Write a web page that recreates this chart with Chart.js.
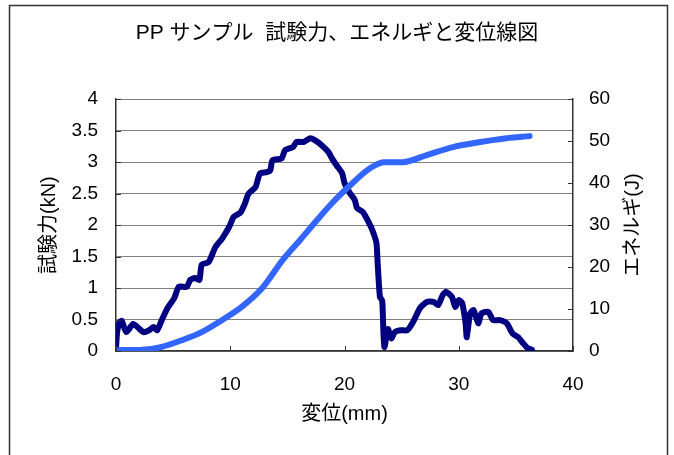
<!DOCTYPE html>
<html>
<head>
<meta charset="utf-8">
<script src="https://cdn.jsdelivr.net/npm/chart.js@4"></script>
<style>
html,body{margin:0;padding:0;background:#fff;}
#wrap{position:relative;width:674px;height:455px;}
</style>
</head>
<body>
<div id="wrap"><canvas id="c" width="674" height="455"></canvas></div>
<script>
const FONT = '"Liberation Sans", Arial, "Noto Sans CJK JP", sans-serif';

const titleText = 'PP サンプル  試験力、エネルギと変位線図';
const xTitle = '変位(mm)';
const yTitle = '試験力(kN)';
const y1Title = 'エネルギ(J)';

const forceX = [0, 0.1, 0.3, 0.5, 0.9, 1.5, 2.0, 2.4, 2.9, 3.3, 3.6, 4.0, 4.5, 5.1, 5.5, 6.2, 6.5, 6.9, 7.3, 7.5, 8.1, 8.7, 9.3, 9.9, 10.3, 10.9, 11.3, 11.6, 12.2, 12.6, 13.2, 13.5, 13.7, 14.5, 14.8, 15.5, 15.8, 16.4, 17.0, 17.4, 18.0, 18.6, 18.9, 19.3, 19.8, 20.0, 20.5, 20.9, 21.1, 21.6, 22.1, 22.5, 22.8, 22.9, 23.1, 23.3, 23.4, 23.5, 23.8, 24.1, 24.4, 24.9, 25.5, 26.0, 26.6, 27.2, 27.8, 28.2, 28.6, 28.9, 29.4, 29.7, 30.0, 30.3, 30.6, 30.7, 31.0, 31.3, 31.7, 32.0, 32.6, 33.0, 33.6, 34.2, 34.7, 35.2, 35.6, 36.0, 36.4];
const forceY = [0.05, 0.3, 0.45, 0.48, 0.3, 0.43, 0.36, 0.3, 0.33, 0.38, 0.33, 0.49, 0.68, 0.84, 1.02, 1.02, 1.13, 1.16, 1.13, 1.37, 1.41, 1.65, 1.79, 1.97, 2.13, 2.2, 2.35, 2.5, 2.6, 2.82, 2.84, 2.87, 3.03, 3.06, 3.19, 3.24, 3.32, 3.32, 3.38, 3.35, 3.27, 3.16, 3.06, 2.95, 2.82, 2.67, 2.5, 2.4, 2.27, 2.21, 2.05, 1.89, 1.71, 1.4, 0.86, 0.8, 0.33, 0.06, 0.35, 0.2, 0.3, 0.33, 0.33, 0.46, 0.68, 0.78, 0.78, 0.73, 0.89, 0.94, 0.86, 0.7, 0.81, 0.76, 0.44, 0.22, 0.6, 0.65, 0.44, 0.6, 0.62, 0.49, 0.49, 0.44, 0.28, 0.22, 0.13, 0.05, 0.02];

const energyX = [0, 2.3, 4.0, 5.8, 7.5, 9.3, 11.0, 12.8, 14.6, 16.1, 17.6, 19.0, 20.5, 22.0, 22.8, 23.4, 25.1, 27.2, 29.5, 31.9, 34.2, 36.2];
const energyY = [0.2, 0.3, 1.0, 2.6, 4.5, 7.4, 10.5, 15.0, 21.7, 26.4, 31.2, 35.5, 39.5, 43.1, 44.4, 45.0, 45.0, 46.7, 48.6, 49.8, 50.7, 51.2];

const xRange = [0, 40, 10];
const yRange = [0, 4, 0.5];
const y1Range = [0, 60, 10];

const toPts = (xs, ys) => xs.map((x, i) => ({x: x, y: ys[i]}));
const fmt = v => String(Math.round(v * 100) / 100);

const decor = {
  id: 'decor',
  afterDraw(chart) {
    const ctx = chart.ctx;
    const s = chart.scales;
    ctx.save();
    ctx.strokeStyle = '#333';
    ctx.lineWidth = 1.5;
    ctx.strokeRect(9.5, 5.5, 658, 470);
    ctx.lineWidth = 1;
    ctx.beginPath();
    s.y.ticks.forEach(t => {
      const p = Math.round(s.y.getPixelForValue(t.value)) + 0.5;
      ctx.moveTo(s.y.right, p); ctx.lineTo(s.y.right + 5, p);
    });
    s.y1.ticks.forEach(t => {
      const p = Math.round(s.y1.getPixelForValue(t.value)) + 0.5;
      ctx.moveTo(s.y1.left - 5, p); ctx.lineTo(s.y1.left, p);
    });
    s.x.ticks.forEach(t => {
      const p = Math.round(s.x.getPixelForValue(t.value)) + 0.5;
      ctx.moveTo(p, s.x.top); ctx.lineTo(p, s.x.top - 5);
    });
    ctx.stroke();
    ctx.fillStyle = '#000';
    ctx.font = '20px ' + FONT;
    ctx.textAlign = 'center';
    ctx.textBaseline = 'middle';
    ctx.translate(633, (chart.chartArea.top + chart.chartArea.bottom) / 2);
    ctx.rotate(-Math.PI / 2);
    ctx.fillText(y1Title, 0, 0);
    ctx.restore();
  }
};

new Chart(document.getElementById('c'), {
  type: 'scatter',
  data: {
    datasets: [
      {
        label: 'エネルギ',
        data: toPts(energyX, energyY),
        yAxisID: 'y1',
        showLine: true,
        borderColor: '#3366ff',
        backgroundColor: '#3366ff',
        borderWidth: 6,
        pointRadius: 0,
        borderCapStyle: 'round',
        borderJoinStyle: 'round',
        cubicInterpolationMode: 'monotone',
        fill: false
      },
      {
        label: '試験力',
        data: toPts(forceX, forceY),
        yAxisID: 'y',
        showLine: true,
        borderColor: '#000080',
        backgroundColor: '#000080',
        borderWidth: 6,
        pointRadius: 0,
        borderCapStyle: 'round',
        borderJoinStyle: 'round',
        tension: 0.2,
        fill: false
      }
    ]
  },
  options: {
    responsive: false,
    animation: false,
    events: [],
    layout: { padding: 0 },
    plugins: {
      legend: { display: false },
      tooltip: { enabled: false },
      title: {
        display: true,
        text: titleText,
        color: '#000',
        font: { family: FONT, size: 21, weight: 'normal', lineHeight: 1.2 },
        padding: { top: 21, bottom: 53 }
      }
    },
    scales: {
      x: {
        type: 'linear',
        position: 'bottom',
        min: xRange[0], max: xRange[1],
        afterFit(scale) { scale.height = 104; },
        ticks: { stepSize: xRange[2], color: '#000', padding: 22, maxRotation: 0,
                 font: { family: FONT, size: 19 }, callback: fmt },
        grid: { display: false, drawTicks: false },
        border: { display: true, color: '#333', width: 1.5 },
        title: { display: true, text: xTitle, color: '#000',
                 font: { family: FONT, size: 20 }, padding: { top: 0, bottom: 29 } }
      },
      y: {
        type: 'linear',
        position: 'left',
        min: yRange[0], max: yRange[1],
        afterFit(scale) { scale.width = 116; },
        ticks: { stepSize: yRange[2], color: '#000', padding: 18,
                 font: { family: FONT, size: 19 }, callback: fmt },
        grid: { display: true, color: '#808080', lineWidth: 1, drawTicks: false },
        border: { display: true, color: '#333', width: 1.5 },
        title: { display: true, text: yTitle, color: '#000',
                 font: { family: FONT, size: 20 }, padding: { top: 37, bottom: 0 } }
      },
      y1: {
        type: 'linear',
        position: 'right',
        min: y1Range[0], max: y1Range[1],
        afterFit(scale) { scale.width = 101; },
        ticks: { stepSize: y1Range[2], color: '#000', padding: 16,
                 font: { family: FONT, size: 19 }, callback: fmt },
        grid: { display: false, drawOnChartArea: false, drawTicks: false },
        border: { display: true, color: '#333', width: 1.5 },
        title: { display: false }
      }
    }
  },
  plugins: [decor]
});
</script>
</body>
</html>
